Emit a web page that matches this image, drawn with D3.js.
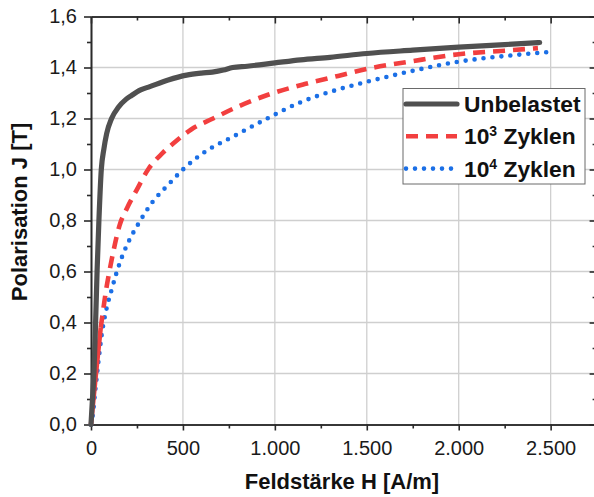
<!DOCTYPE html>
<html>
<head>
<meta charset="utf-8">
<script src="https://cdn.jsdelivr.net/npm/d3@7/dist/d3.min.js"></script>
<style>
  html, body { margin: 0; padding: 0; background: #fff; }
  svg { display: block; font-family: "Liberation Sans", Arial, sans-serif; }
</style>
</head>
<body>
<svg id="chart" width="594" height="497"></svg>
<script>
// ---- data ----
const seriesNames = ["Unbelastet", "10³ Zyklen", "10⁴ Zyklen"];

const hUnbelastet = [0, 8, 16, 25, 33, 43, 56, 70, 85, 112, 150, 190, 220, 270, 320, 420, 520, 600, 660, 720, 770, 850, 1000, 1140, 1300, 1500, 1750, 2000, 2250, 2440];
const jUnbelastet = [0, 0.1, 0.2, 0.4, 0.6, 0.8, 1.0, 1.08, 1.14, 1.2, 1.245, 1.275, 1.29, 1.312, 1.325, 1.351, 1.37, 1.378, 1.382, 1.39, 1.4, 1.405, 1.418, 1.43, 1.44, 1.455, 1.468, 1.48, 1.49, 1.498];

const h1e3 = [0, 27, 53, 64, 82, 100, 122, 155, 197, 245, 315, 390, 460, 545, 664, 800, 963, 1162, 1344, 1505, 1750, 2000, 2250, 2431];
const j1e3 = [0, 0.2, 0.38, 0.437, 0.527, 0.6, 0.68, 0.78, 0.85, 0.915, 1.005, 1.065, 1.11, 1.157, 1.2, 1.247, 1.293, 1.335, 1.367, 1.395, 1.425, 1.452, 1.466, 1.476];

const h1e4 = [0, 9, 24, 40, 58, 85, 111, 138, 169, 209, 256, 335, 420, 500, 609, 773, 945, 1144, 1326, 1507, 1750, 2000, 2250, 2478];
const j1e4 = [0, 0.033, 0.138, 0.244, 0.351, 0.456, 0.525, 0.593, 0.658, 0.724, 0.785, 0.873, 0.94, 1.0, 1.064, 1.129, 1.195, 1.265, 1.31, 1.345, 1.387, 1.423, 1.445, 1.46];

const xTicks = [0, 500, 1000, 1500, 2000, 2500];
const xTickLabels = ["0", "500", "1.000", "1.500", "2.000", "2.500"];
const xMinor = [250, 750, 1250, 1750, 2250, 2750];
const yTicks = [0, 0.2, 0.4, 0.6, 0.8, 1.0, 1.2, 1.4, 1.6];
const yTickLabels = ["0,0", "0,2", "0,4", "0,6", "0,8", "1,0", "1,2", "1,4", "1,6"];
const yMinor = [0.1, 0.3, 0.5, 0.7, 0.9, 1.1, 1.3, 1.5];

const xTitle = "Feldstärke H [A/m]";
const yTitle = "Polarisation J [T]";

// ---- layout ----
const svg = d3.select("#chart");
const mLeft = 91, mRight = 596.6, mTop = 16.5, mBottom = 424.5;
const x = d3.scaleLinear().domain([0, 2750]).range([mLeft, mRight]);
const y = d3.scaleLinear().domain([0, 1.6]).range([mBottom, mTop]);

svg.append("rect").attr("width", 594).attr("height", 497).attr("fill", "#fff");

// grid
const grid = svg.append("g").attr("stroke", "#cfcfcf").attr("stroke-width", 1.3);
grid.selectAll("line.gx").data(xTicks.filter(d => d > 0)).join("line")
  .attr("x1", d => x(d)).attr("x2", d => x(d)).attr("y1", mTop).attr("y2", mBottom);
grid.selectAll("line.gy").data(yTicks.filter(d => d > 0 && d < 1.6)).join("line")
  .attr("y1", d => y(d)).attr("y2", d => y(d)).attr("x1", mLeft).attr("x2", mRight);

// axes
const axisColor = "#2a2a2a";
function styleAxis(g) {
  g.select(".domain").attr("stroke", axisColor).attr("stroke-width", 1.6);
  g.selectAll(".tick line").attr("stroke", axisColor).attr("stroke-width", 1.6);
  g.selectAll(".tick text").attr("fill", "#1a1a1a").style("font-size", "20px")
    .style("font-family", '"Liberation Sans", Arial, sans-serif');
}
const gB = svg.append("g").attr("transform", `translate(0,${mBottom})`)
  .call(d3.axisBottom(x).tickValues(xTicks).tickSize(6).tickSizeOuter(0).tickPadding(10)
    .tickFormat((d, i) => xTickLabels[i]));
styleAxis(gB);
const gBm = svg.append("g").attr("transform", `translate(0,${mBottom})`)
  .call(d3.axisBottom(x).tickValues(xMinor).tickSize(4).tickSizeOuter(0).tickFormat(""));
styleAxis(gBm);

const gL = svg.append("g").attr("transform", `translate(${mLeft},0)`)
  .call(d3.axisLeft(y).tickValues(yTicks).tickSize(7).tickSizeOuter(0).tickPadding(7)
    .tickFormat((d, i) => yTickLabels[i]));
styleAxis(gL);
const gLm = svg.append("g").attr("transform", `translate(${mLeft},0)`)
  .call(d3.axisLeft(y).tickValues(yMinor).tickSize(4).tickSizeOuter(0).tickFormat(""));
styleAxis(gLm);

const gT = svg.append("g").attr("transform", `translate(0,${mTop})`)
  .call(d3.axisBottom(x).tickValues(xTicks).tickSize(7).tickSizeOuter(0).tickFormat(""));
styleAxis(gT);
const gTm = svg.append("g").attr("transform", `translate(0,${mTop})`)
  .call(d3.axisBottom(x).tickValues(xMinor).tickSize(4).tickSizeOuter(0).tickFormat(""));
styleAxis(gTm);

const gR = svg.append("g").attr("transform", `translate(${mRight},0)`)
  .call(d3.axisLeft(y).tickValues(yTicks).tickSize(7).tickSizeOuter(0).tickFormat(""));
styleAxis(gR);
const gRm = svg.append("g").attr("transform", `translate(${mRight},0)`)
  .call(d3.axisLeft(y).tickValues(yMinor).tickSize(4).tickSizeOuter(0).tickFormat(""));
styleAxis(gRm);

// curves
const line = d3.line().x(d => x(d[0])).y(d => y(d[1])).curve(d3.curveMonotoneX);
const zip = (a, b) => a.map((v, i) => [v, b[i]]);

const colBlack = "#505050", colRed = "#f23f3f", colBlue = "#1b6fe6";

svg.append("path").datum(zip(h1e4, j1e4)).attr("d", line)
  .attr("fill", "none").attr("stroke", colBlue).attr("stroke-width", 4.6)
  .attr("stroke-linecap", "round").attr("stroke-dasharray", "0,9");

const redData = zip(h1e3, j1e3);
svg.append("path").datum(redData.slice(0, 3)).attr("d", line)
  .attr("fill", "none").attr("stroke", colRed).attr("stroke-width", 4.6);
svg.append("path").datum(redData.slice(2)).attr("d", line)
  .attr("fill", "none").attr("stroke", colRed).attr("stroke-width", 4.6)
  .attr("stroke-dasharray", "12,8");

svg.append("path").datum(zip(hUnbelastet, jUnbelastet)).attr("d", line)
  .attr("fill", "none").attr("stroke", colBlack).attr("stroke-width", 5.2)
  .attr("stroke-linecap", "round");

// legend
const lg = svg.append("g");
lg.append("rect").attr("x", 403).attr("y", 88.5).attr("width", 182).attr("height", 95.5)
  .attr("fill", "#fff").attr("stroke", "#6a6a6a").attr("stroke-width", 1);
const legendRows = [
  { name: seriesNames[0], color: colBlack, dash: null, cap: "round", w: 5.2, sup: null },
  { name: seriesNames[1], color: colRed, dash: "12,8", cap: "butt", w: 4.6, sup: "3" },
  { name: seriesNames[2], color: colBlue, dash: "0,9", cap: "round", w: 4.6, sup: "4" }
];
legendRows.forEach((r, i) => {
  const yy = 104 + i * 32.3;
  lg.append("line").attr("x1", 406).attr("x2", 457)
    .attr("y1", yy).attr("y2", yy)
    .attr("stroke", r.color).attr("stroke-width", r.w).attr("stroke-linecap", r.cap)
    .attr("stroke-dasharray", r.dash);
  const t = lg.append("text").attr("x", 464).attr("y", yy + 8)
    .style("font-size", "22.8px").style("font-weight", "bold").attr("fill", "#111");
  if (!r.sup) {
    t.text(r.name);
  } else {
    t.append("tspan").text("10");
    t.append("tspan").text(r.sup).style("font-size", "14px").attr("dy", -8);
    t.append("tspan").text(" Zyklen").attr("dy", 8);
  }
});

// axis titles
svg.append("text").attr("x", 342).attr("y", 489).attr("text-anchor", "middle")
  .style("font-size", "22px").style("font-weight", "bold").attr("fill", "#111").text(xTitle);
svg.append("text").attr("transform", "translate(26.5,212) rotate(-90)").attr("text-anchor", "middle")
  .style("font-size", "22px").style("font-weight", "bold").attr("fill", "#111").text(yTitle);
</script>
</body>
</html>
